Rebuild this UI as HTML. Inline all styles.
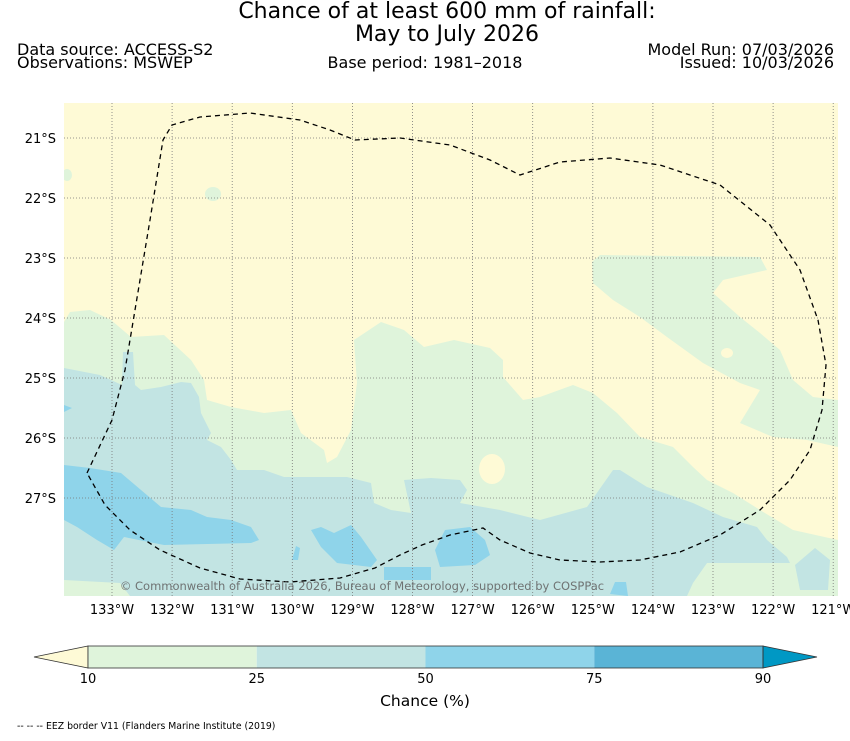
<!DOCTYPE html>
<html><head><meta charset="utf-8"><style>
body{margin:0;background:#fff;width:850px;height:736px;overflow:hidden;font-family:"Liberation Sans","DejaVu Sans",sans-serif}
svg text{font-family:"DejaVu Sans","Liberation Sans",sans-serif}
</style></head><body>
<svg id="chart" width="850" height="736" viewBox="0 0 850 736" xmlns="http://www.w3.org/2000/svg">
<text x="447" y="18" font-size="22" text-anchor="middle">Chance of at least 600 mm of rainfall:</text>
<text x="447" y="41" font-size="22" text-anchor="middle">May to July 2026</text>
<text x="17" y="55" font-size="16">Data source: ACCESS-S2</text>
<text x="17" y="68" font-size="16">Observations: MSWEP</text>
<text x="425" y="68" font-size="16" text-anchor="middle">Base period: 1981–2018</text>
<text x="834" y="55" font-size="16" text-anchor="end">Model Run: 07/03/2026</text>
<text x="834" y="68" font-size="16" text-anchor="end">Issued: 10/03/2026</text>
<defs><clipPath id="mapclip"><rect x="64" y="103" width="774" height="493"/></clipPath></defs>
<g id="map" clip-path="url(#mapclip)"></g>
<g id="axes"></g>
<g id="cbar"></g>
<text x="425" y="706" font-size="15.5" text-anchor="middle">Chance (%)</text>
<text x="17" y="729" font-size="9.3">-- -- -- EEZ border V11 (Flanders Marine Institute (2019)</text>
</svg>
<script>
const lonTicks=[-133,-132,-131,-130,-129,-128,-127,-126,-125,-124,-123,-122,-121];
const latTicks=[-21,-22,-23,-24,-25,-26,-27];
const levels=[10,25,50,75,90];
const levelColors=["#dff4db","#c2e4e3","#8fd4ea","#5ab4d6"];
const x=lon=>112+(lon+133)*60.1;
const y=lat=>138+(-21-lat)*60;
const NS="http://www.w3.org/2000/svg";
function mk(tag,attrs,parent){const e=document.createElementNS(NS,tag);for(const k in attrs)e.setAttribute(k,attrs[k]);parent.appendChild(e);return e;}
const map=document.getElementById('map');
mk('rect',{x:64,y:103,width:774,height:493,fill:'#dff4db'},map);
const shapes=[
 ['#fefad6',"64,103 838,103 838,400 813,397 793,380 780,350 760,333 740,317 713,293 723,280 767,270 760,257 600,255 592,262 593,283 613,300 640,317 667,337 703,363 740,383 760,390 740,423 773,437 807,440 838,447 838,540 793,530 760,510 733,493 707,480 693,467 673,447 640,437 617,413 593,393 573,385 540,397 523,400 503,377 503,360 490,348 454,340 424,347 404,330 381,322 354,340 357,383 351,430 337,457 327,463 324,450 301,433 291,410 264,413 231,407 207,400 204,380 191,360 164,335 131,337 111,320 90,310 70,312 64,322"],
 ['#c2e4e3',"64,368 100,375 122,385 123,352 133,352 135,385 141,390 161,387 181,382 191,383 199,397 201,413 211,433 207,440 221,447 231,460 237,470 264,470 284,477 347,477 371,483 374,503 391,510 411,513 404,480 431,478 460,480 467,490 460,503 500,510 540,520 587,507 613,470 620,470 647,487 693,503 723,517 757,527 767,540 787,557 790,563 740,563 707,563 693,583 687,596 130,596 120,583 64,580"],
 ['#c2e4e3',"795,565 815,548 830,560 828,590 800,590"],
 ['#8fd4ea',"64,465 90,468 121,473 141,490 161,507 191,510 207,517 231,520 251,527 259,540 251,543 164,545 124,537 114,550 97,540 77,527 64,520"],
 ['#8fd4ea',"311,530 321,527 334,533 351,525 361,537 377,560 371,567 337,563 321,547"],
 ['#8fd4ea',"384,567 431,567 431,580 384,580"],
 ['#8fd4ea',"435,550 445,530 470,527 485,540 490,555 475,565 440,567"],
 ['#8fd4ea',"292,560 296,546 300,548 298,560"],
 ['#8fd4ea',"610,594 615,582 626,582 628,596"],
 ['#8fd4ea',"64,405 72,408 64,412"]];
shapes.forEach((s,i)=>{const p=mk('polygon',{points:s[1],fill:s[0]},map);

});
mk('ellipse',{cx:492,cy:469,rx:13,ry:15,fill:'#fefad6'},map);
mk('ellipse',{cx:727,cy:353,rx:6,ry:5,fill:'#fefad6'},map);
mk('ellipse',{cx:213,cy:194,rx:8,ry:7,fill:'#dff4db'},map);
mk('ellipse',{cx:67,cy:175,rx:5,ry:6,fill:'#dff4db'},map);
const ax=document.getElementById('axes');
lonTicks.forEach(l=>{const g=mk('line',{x1:x(l),x2:x(l),y1:103,y2:596,stroke:'#777','stroke-width':0.8,'stroke-dasharray':'1,2'},map);

const t=mk('text',{x:x(l),y:614,'font-size':13,'text-anchor':'middle'},ax);t.textContent=Math.abs(l)+'°W';
});
latTicks.forEach(l=>{const g=mk('line',{x1:64,x2:838,y1:y(l),y2:y(l),stroke:'#777','stroke-width':0.8,'stroke-dasharray':'1,2'},map);

const t=mk('text',{x:56,y:y(l)+5,'font-size':13,'text-anchor':'end'},ax);t.textContent=Math.abs(l)+'°S';
});
const eez="87,473 112,420 125,370 135,310 150,220 163,140 172,125 200,117 250,113 300,120 330,130 355,140 400,138 450,145 490,160 520,175 560,162 610,158 660,165 720,185 770,225 800,270 818,320 826,365 822,410 810,450 790,480 760,510 720,535 680,552 640,560 600,562 560,560 530,553 500,540 483,528 450,535 422,545 400,555 375,568 340,578 290,582 240,579 200,568 160,550 130,530 105,505 87,473";
const eezLine=mk('polyline',{points:eez,fill:'none',stroke:'#000','stroke-width':1.3,'stroke-dasharray':'5,4'},map);

const cp=mk('text',{x:362,y:590,'font-size':11.5,'text-anchor':'middle',fill:'#666','fill-opacity':0.9},map);
cp.textContent='© Commonwealth of Australia 2026, Bureau of Meteorology, supported by COSPPac';

const cb=document.getElementById('cbar');
const cx0=88,cx1=763,cy=646,ch=22;
const seg=(cx1-cx0)/(levels.length-1);
mk('polygon',{points:`34,${cy+ch/2} ${cx0},${cy} ${cx0},${cy+ch}`,fill:'#fefad6',stroke:'#333','stroke-width':0.8},cb);
levelColors.forEach((c,i)=>{const r=mk('rect',{x:cx0+i*seg,y:cy,width:seg,height:ch,fill:c},cb);
});
mk('polygon',{points:`${cx1},${cy} 817,${cy+ch/2} ${cx1},${cy+ch}`,fill:'#0098c4',stroke:'#333','stroke-width':0.8},cb);
mk('rect',{x:cx0,y:cy,width:cx1-cx0,height:ch,fill:'none',stroke:'#333','stroke-width':0.8},cb);
levels.forEach((v,i)=>{const t=mk('text',{x:cx0+i*seg,y:683,'font-size':13,'text-anchor':'middle'},cb);t.textContent=v;
});
</script>
</body></html>
